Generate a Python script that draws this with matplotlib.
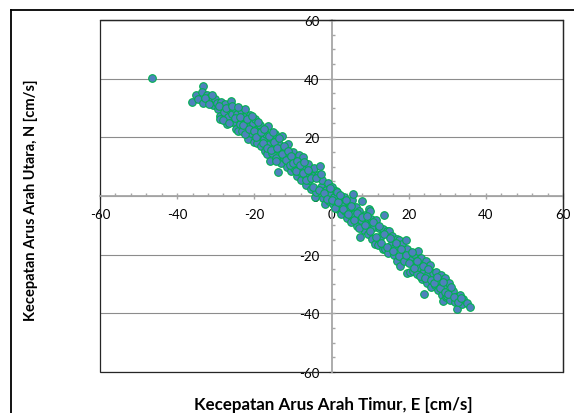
import matplotlib
matplotlib.use("Agg")
import matplotlib.pyplot as plt
from matplotlib.lines import Line2D
from matplotlib.patches import Rectangle
from matplotlib.ticker import MultipleLocator

plt.rcParams['font.family'] = ['Lato', 'DejaVu Sans']

# --- East (E) and North (N) current velocity components, cm/s ---
east = [
    -46.5,
    -36.2, -35.0, -34.6, -33.3, -33.5, -33.3, -32.2, -31.5, -31.0, -30.6, -30.2, -29.8,
    -29.5, -29.0, -28.9, -28.6, -28.2, -27.8, -27.5, -27.1, -26.8, -26.4, -26.0, -25.8, -25.5, -25.2,
    -24.8, -24.5, -24.2, -23.8, -23.5, -23.2, -22.8, -22.4, -22.1, -21.6, -21.5, -21.1, -20.8, -20.4,
    -20.1, -19.8,
    -19.5, -19.2, -18.9, -18.6, -18.2, -17.9, -17.6, -17.2, -16.9, -16.7, -16.5, -16.2, -15.9, -15.6,
    -15.3, -15.0,
    -14.7, -14.3, -13.9, -13.6, -13.3, -13.0, -12.8, -12.3, -12.0, -11.6, -11.3, -11.0, -10.6, -10.3,
    -10.0,
    -9.7, -9.4, -9.0, -8.7, -8.4, -8.1, -7.8, -7.4, -7.2, -6.9, -6.5, -6.2, -5.9, -5.5, -5.2,
    -4.9, -4.5, -4.3, -3.9, -3.5, -3.0, -2.8, -2.4, -2.1, -1.7, -1.4, -1.0, -0.7, -0.3, 0.0,
    0.4, 0.7, 1.1, 1.4, 1.8, 2.1, 2.5, 2.8, 3.2, 3.6, 3.9, 4.3, 4.6, 5.0, 5.3,
    5.6, 5.9, 6.3, 6.6, 7.0, 7.4, 7.7, 7.9, 8.4, 8.8, 9.1, 9.5, 9.8, 10.0, 10.3,
    10.6, 10.9, 11.3, 11.6, 12.0, 12.3, 12.7, 13.3, 13.4, 13.6, 13.9, 14.3, 14.7, 15.0, 15.4,
    15.7, 16.1, 16.4, 17.0, 17.1, 17.5, 17.8, 18.2, 18.5, 18.9, 19.2, 19.6, 19.6, 20.3, 20.4,
    21.0, 21.3, 21.7, 22.1, 22.4, 22.7, 23.1, 23.4, 24.0, 24.1, 24.4, 24.8, 25.1, 25.5, 25.8,
    26.2, 26.4, 26.9, 27.2, 27.6, 27.9, 28.3, 28.6, 28.9, 29.0, 29.3, 29.7, 29.9, 30.4,
    30.8, 31.1, 31.5, 31.9, 32.2, 32.4, 33.0, 33.4, 33.8, 34.2, 35.1, 35.9,
    -32.8, -31.8, -30.9, -29.2, -28.0, -27.3, -26.6, -25.9, -25.0, -24.3, -23.6, -22.9, -22.5,
    -21.9, -21.3, -20.6, -20.2, -19.6, -19.0, -18.4, -17.8, -17.4, -16.8, -16.3, -15.8, -15.2,
    -14.9, -14.5, -14.0, -13.5, -12.9, -12.4, -11.8, -11.2, -10.8, -10.4, -9.9, -9.2, -8.9,
    -8.2, -7.5, -7.0, -6.6, -6.0, -5.4, -4.7, -4.0, -3.3, -2.6, -2.0, -1.2, -0.5,
    0.2, 0.9, 1.6, 2.3, 3.0, 3.7, 4.4, 5.1, 5.8, 6.5, 7.2, 8.0, 8.6, 9.3, 10.1, 10.8,
    11.5, 12.2, 12.9, 13.7, 14.5, 15.2, 15.9, 16.6, 17.4, 18.0, 18.7, 19.4, 20.0, 20.8,
    21.5, 22.2, 22.9, 23.6, 24.3, 25.0, 25.7, 26.6, 27.4, 28.1, 28.8, 29.5, 30.2, 30.9,
    31.7, 32.8, 33.6,
]
north = [
    40.2,
    32.0, 34.3, 33.0, 37.5, 35.6, 31.7, 34.5, 33.8, 32.6, 30.9, 33.1, 31.8,
    29.6, 27.4, 26.2, 32.0, 30.3, 28.6, 31.2, 24.5, 26.9, 29.4, 32.4, 27.8, 25.2, 30.1,
    23.0, 28.0, 22.2, 24.4, 29.3, 22.1, 27.0, 29.7, 25.3, 19.4, 23.4, 27.6, 21.6, 24.8,
    18.4, 26.2,
    22.5, 18.0, 20.9, 24.3, 16.9, 22.0, 19.4, 15.3, 21.3, 14.3, 23.9, 17.6, 11.9, 19.8,
    14.6, 16.4,
    21.1, 13.1, 8.2, 17.7, 15.2, 11.3, 20.5, 12.8, 15.9, 10.0, 17.7, 13.6, 8.4, 11.9,
    15.0,
    9.5, 12.9, 6.9, 11.0, 14.0, 8.3, 5.3, 13.3, 9.9, 7.0, 3.9, 10.8, 5.6, 8.5, 2.4,
    6.8, 9.6, -0.3, 1.3, 7.2, 10.2, 3.0, 5.5, -0.6, -2.7, 2.1, 4.6, -1.8, 0.8, 3.2,
    -2.7, -0.3, 1.8, 1.4, -4.5, -1.6, -6.3, -3.0, -0.2, -5.2, -7.6, -2.1, -4.0, -8.8, -1.2,
    0.7, -6.2, -3.7, -10.1, -5.0, -14.0, -8.3, -1.7, -11.5, -6.4, -9.4, -12.9, -4.4, -5.1, -7.8,
    -14.8, -10.6, -16.4, -8.1, -16.6, -11.0, -13.8, -11.3, -17.9, -6.5, -18.1, -12.1, -19.4, -12.0, -16.8,
    -13.7, -20.2, -17.5, -14.7, -22.1, -15.0, -23.9, -16.3, -21.5, -20.6, -14.9, -18.2, -26.2, -21.4, -25.9,
    -25.6, -19.9, -22.9, -26.6, -18.8, -24.1, -21.0, -28.2, -33.4, -25.4, -22.2, -29.6, -26.7, -23.6, -31.0,
    -27.9, -26.3, -30.3, -25.9, -32.2, -28.8, -26.8, -33.6, -35.8, -30.6, -28.1, -34.4, -34.0, -29.6,
    -35.5, -33.0, -32.4, -36.3, -34.4, -38.5, -35.3, -33.9, -36.9, -35.1, -36.4, -37.8,
    33.4, 31.4, 34.6, 30.7, 26.0, 29.9, 24.8, 30.8, 26.6, 30.5, 26.8, 24.2, 21.0,
    26.2, 22.9, 27.3, 22.3, 20.1, 25.1, 21.7, 18.2, 23.0, 16.4, 20.6, 15.8, 21.9,
    18.3, 11.8, 16.2, 19.8, 14.4, 17.1, 12.3, 15.4, 10.4, 13.8, 11.4, 8.6, 12.1,
    10.5, 7.7, 11.6, 5.4, 8.9, 6.2, 3.1, 6.1, 2.0, 7.4, 1.1, -0.9, 2.6,
    -1.2, -4.1, -2.2, 0.4, -4.6, -1.4, -6.1, -3.5, -8.1, -5.8, -10.8, -7.2, -9.9, -6.8, -12.0, -8.9,
    -14.0, -10.2, -15.9, -13.1, -17.4, -14.3, -18.9, -16.0, -20.4, -18.1, -22.2, -20.0, -22.8, -19.1,
    -24.5, -22.0, -27.4, -24.0, -27.8, -24.9, -28.7, -29.8, -27.6, -31.4, -29.2, -32.7, -33.5, -30.9,
    -34.6, -36.2, -34.8,
]

x_ticks = [-60, -40, -20, 0, 20, 40, 60]
y_ticks = [-60, -40, -20, 0, 20, 40, 60]

fig = plt.figure(figsize=(5.74, 4.14), dpi=100)
ax = fig.add_axes([100 / 574, 41 / 414, 463 / 574, 352 / 414])

ax.scatter(east, north, s=30, facecolor='#4F81BD', edgecolor='#00B050',
           linewidths=0.8, zorder=3, clip_on=False)

ax.set_xlim(-60, 60)
ax.set_ylim(-60, 60)
ax.set_xticks(x_ticks)
ax.set_yticks(y_ticks)
ax.set_xticklabels([str(v) for v in x_ticks])
ax.set_yticklabels([str(v) for v in y_ticks])
ax.xaxis.set_minor_locator(MultipleLocator(4))
ax.yaxis.set_minor_locator(MultipleLocator(5))

# horizontal gridlines only
ax.grid(axis='y', color='#8C8C8C', linewidth=0.8, zorder=0)
ax.set_axisbelow(True)

# axes cross at the origin, plot area keeps a dark frame
axis_grey = '#A6A6A6'
for side in ('left', 'bottom'):
    ax.spines[side].set_position('zero')
    ax.spines[side].set_color(axis_grey)
    ax.spines[side].set_linewidth(1.3)
    ax.spines[side].set_zorder(2)
for side in ('top', 'right'):
    ax.spines[side].set_color('#262626')
    ax.spines[side].set_linewidth(0.9)
ax.add_patch(Rectangle((0, 0), 1, 1, transform=ax.transAxes, fill=False,
                       edgecolor='#262626', linewidth=0.9, clip_on=False, zorder=1))

ax.tick_params(which='major', direction='inout', length=5, width=1, color=axis_grey,
               labelsize=9.5, labelcolor='black')
ax.tick_params(which='minor', direction='in', length=2.5, width=1, color=axis_grey)
ax.tick_params(axis='x', which='major', pad=6)
ax.tick_params(axis='y', which='major', pad=6)

fig.text(333 / 574, 1 - 405 / 414, 'Kecepatan Arus Arah Timur, E [cm/s]',
         ha='center', va='center', fontsize=12.2, fontweight='bold')
fig.text(31 / 574, 1 - 200 / 414, 'Kecepatan Arus Arah Utara, N [cm/s]',
         ha='center', va='center', rotation=90, fontsize=10.5, fontweight='bold')

# outer chart frame: only its top and left edges fall inside the image
frame_x = 10.5 / 574
frame_y = 1 - 10.5 / 414
fig.add_artist(Line2D([frame_x, 1], [frame_y, frame_y], transform=fig.transFigure,
                      color='black', linewidth=1.3))
fig.add_artist(Line2D([frame_x, frame_x], [0, frame_y], transform=fig.transFigure,
                      color='black', linewidth=1.3))

fig.savefig('out.png', dpi=100)
